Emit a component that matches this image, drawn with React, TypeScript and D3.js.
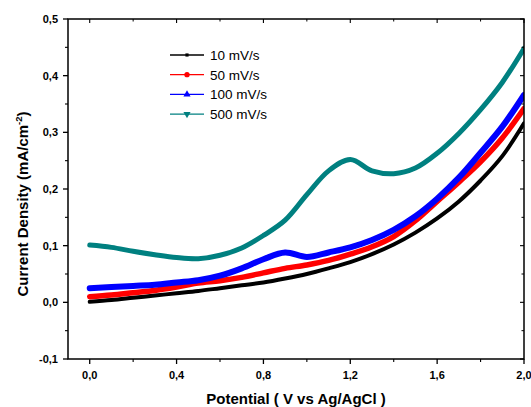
import React from 'react';
import * as d3 from 'd3';

// potential (V vs Ag/AgCl)
const potential = [0, 0.1, 0.2, 0.3, 0.4, 0.5, 0.6, 0.7, 0.8, 0.9, 1.0, 1.1, 1.2, 1.3, 1.4, 1.5, 1.6, 1.7, 1.8, 1.9, 2.0];

// current density (mA/cm-2) per scan rate
const rate10 = [0.001, 0.004, 0.008, 0.012, 0.016, 0.020, 0.025, 0.030, 0.035, 0.042, 0.050, 0.060, 0.071, 0.085, 0.102, 0.123, 0.148, 0.178, 0.215, 0.258, 0.316];
const rate50 = [0.010, 0.013, 0.017, 0.021, 0.027, 0.034, 0.038, 0.044, 0.052, 0.060, 0.066, 0.074, 0.085, 0.098, 0.116, 0.144, 0.178, 0.212, 0.248, 0.290, 0.342];
const rate100 = [0.025, 0.027, 0.029, 0.031, 0.035, 0.039, 0.047, 0.060, 0.076, 0.088, 0.080, 0.088, 0.097, 0.110, 0.128, 0.152, 0.183, 0.220, 0.264, 0.310, 0.366];
const rate500 = [0.101, 0.097, 0.090, 0.084, 0.079, 0.077, 0.083, 0.096, 0.118, 0.145, 0.190, 0.232, 0.252, 0.232, 0.227, 0.237, 0.263, 0.298, 0.340, 0.388, 0.448];

const seriesNames = ['10 mV/s', '50 mV/s', '100 mV/s', '500 mV/s'];
const seriesColors = ['#000000', '#ff0000', '#0000ff', '#008080'];
const seriesWidths = [4, 5.5, 6, 5];
const seriesMarkers = [d3.symbolSquare, d3.symbolCircle, d3.symbolTriangle, d3.symbolTriangle];

const xTicks = [0, 0.4, 0.8, 1.2, 1.6, 2.0];
const xMinor = [0.2, 0.6, 1.0, 1.4, 1.8];
const yTicks = [-0.1, 0, 0.1, 0.2, 0.3, 0.4, 0.5];
const yMinor = [-0.05, 0.05, 0.15, 0.25, 0.35, 0.45];

const fmt = (v: number) => v.toFixed(1).replace('.', ',');

export default function App() {
  const width = 531, height = 407;
  const margin = { top: 19, right: 7, bottom: 48, left: 68 };
  const x = d3.scaleLinear().domain([-0.1, 2.0]).range([margin.left, width - margin.right]);
  const y = d3.scaleLinear().domain([-0.1, 0.5]).range([height - margin.bottom, margin.top]);

  const data = [rate10, rate50, rate100, rate500];
  const line = d3.line<number>()
    .x((d, i) => x(potential[i]))
    .y(d => y(d))
    .curve(d3.curveCatmullRom.alpha(0.5));

  const x0 = x.range()[0], x1 = x.range()[1];
  const y0 = y.range()[0], y1 = y.range()[1];
  const font = 'Liberation Sans, Arial, sans-serif';

  return (
    <svg width={width} height={height} style={{ position: 'absolute', left: 0, top: 0, background: '#fff' }}>
      <defs>
        <clipPath id="plot">
          <rect x={x0} y={y1} width={x1 - x0} height={y0 - y1} />
        </clipPath>
      </defs>

      <g clipPath="url(#plot)">
        {data.map((s, k) => (
          <path key={k} d={line(s) || ''} fill="none" stroke={seriesColors[k]}
            strokeWidth={seriesWidths[k]} strokeLinejoin="round" strokeLinecap="round" />
        ))}
      </g>

      {/* frame */}
      <rect x={x0} y={y1} width={x1 - x0} height={y0 - y1} fill="none" stroke="#000" strokeWidth={1.5} />

      {/* y ticks */}
      {yTicks.map(t => (
        <g key={'y' + t}>
          <line x1={x0 - 5} x2={x0} y1={y(t)} y2={y(t)} stroke="#000" strokeWidth={1.3} />
          <line x1={x1} x2={x1 - 4} y1={y(t)} y2={y(t)} stroke="#000" strokeWidth={1.1} />
          <text x={x0 - 10} y={y(t) + 4} textAnchor="end" fontFamily={font} fontWeight="bold" fontSize={11}>{fmt(t)}</text>
        </g>
      ))}
      {yMinor.map(t => (
        <g key={'ym' + t}>
          <line x1={x0 - 3} x2={x0} y1={y(t)} y2={y(t)} stroke="#000" strokeWidth={1.1} />
          <line x1={x1} x2={x1 - 2.5} y1={y(t)} y2={y(t)} stroke="#000" strokeWidth={1} />
        </g>
      ))}

      {/* x ticks */}
      {xTicks.map(t => (
        <g key={'x' + t}>
          <line x1={x(t)} x2={x(t)} y1={y0} y2={y0 + 5} stroke="#000" strokeWidth={1.3} />
          <line x1={x(t)} x2={x(t)} y1={y1} y2={y1 + 4} stroke="#000" strokeWidth={1.1} />
          <text x={x(t)} y={y0 + 20} textAnchor="middle" fontFamily={font} fontWeight="bold" fontSize={11}>{fmt(t)}</text>
        </g>
      ))}
      {xMinor.map(t => (
        <g key={'xm' + t}>
          <line x1={x(t)} x2={x(t)} y1={y0} y2={y0 + 3} stroke="#000" strokeWidth={1.1} />
          <line x1={x(t)} x2={x(t)} y1={y1} y2={y1 + 2.5} stroke="#000" strokeWidth={1} />
        </g>
      ))}

      {/* axis titles */}
      <text x={296} y={404} textAnchor="middle" fontFamily={font} fontWeight="bold" fontSize={15}>
        Potential ( V vs Ag/AgCl )
      </text>
      <text transform="translate(28,204) rotate(-90)" textAnchor="middle" fontFamily={font} fontWeight="bold" fontSize={15}>
        Current Density (mA/cm<tspan dy={-6} fontSize={9.5}>-2</tspan><tspan dy={6}>)</tspan>
      </text>

      {/* legend */}
      {seriesNames.map((name, k) => {
        const ly = 55 + k * 19.7;
        const sym = d3.symbol().type(seriesMarkers[k]).size(k === 0 ? 10 : 22)();
        return (
          <g key={name}>
            <line x1={170} x2={204} y1={ly} y2={ly} stroke={seriesColors[k]} strokeWidth={1.3} />
            <path d={sym || ''} fill={seriesColors[k]} transform={`translate(187,${ly})${k === 3 ? ' rotate(180)' : ''}`} />
            <text x={210} y={ly + 4.8} fontFamily={font} fontSize={13.5}>{name}</text>
          </g>
        );
      })}
    </svg>
  );
}
